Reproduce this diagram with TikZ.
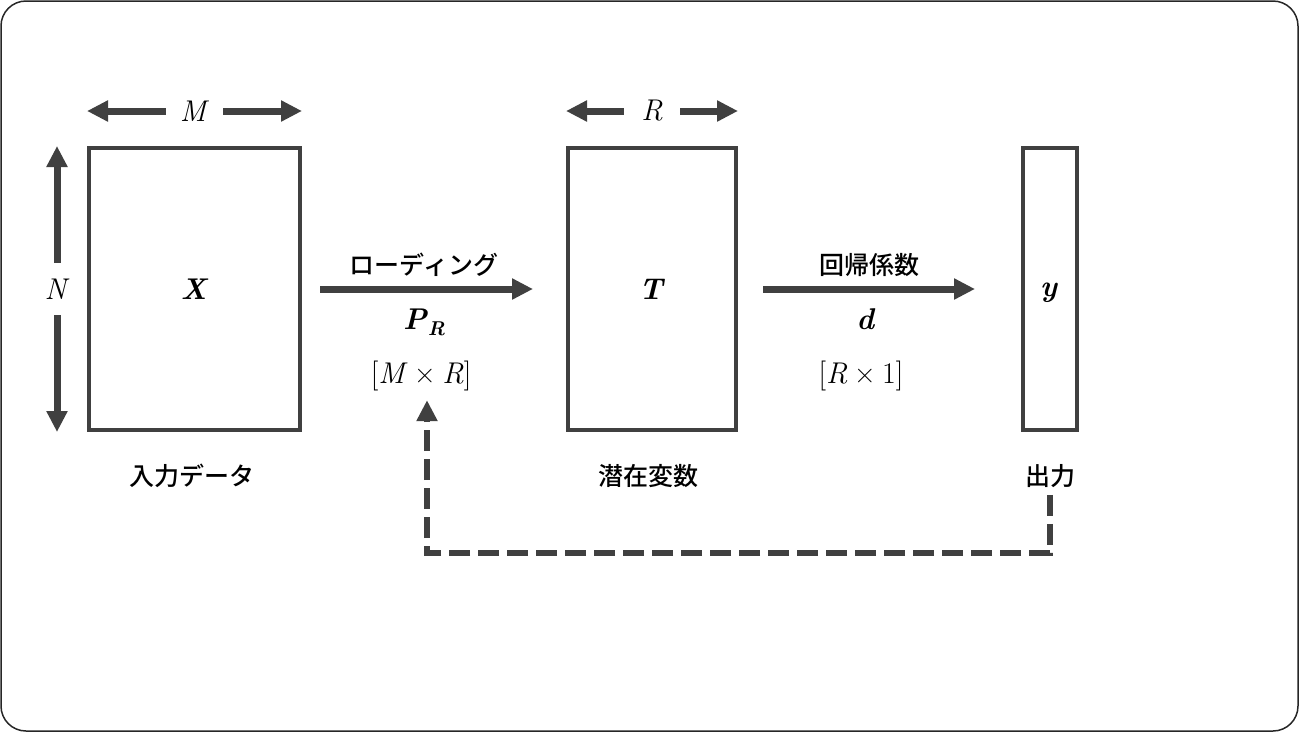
\documentclass[tikz,border=0pt]{standalone}
\usepackage{fontspec}
\newfontfamily\jpfam{Noto Sans CJK JP Medium}
\usetikzlibrary{arrows.meta}
\definecolor{dg}{HTML}{404040}
\newcommand\mymathsize{\fontsize{30}{34}\selectfont}
\newcommand\myjpfont{\jpfam\fontsize{25}{30}\selectfont}
\newcommand\bi[1]{\textbf{\textit{#1}}}
\newcommand\tms{\hspace{0.22em}\symbol{"00D7}\hspace{0.22em}}
\begin{document}
\begin{tikzpicture}[x=1pt,y=-1pt,
  mat/.style={draw=dg, line width=4pt, minimum height=282pt, inner sep=0pt, font=\mymathsize},
  dimarr/.style={draw=dg, line width=7pt, -{Triangle[length=21pt,width=20pt]}},
  bigarr/.style={dimarr},
  fb/.style={draw=dg, line width=6pt, dash pattern=on 21pt off 8pt, -{Triangle[length=21pt,width=20pt]}},
  jp/.style={font=\myjpfont, inner sep=0pt, text=black},
  mt/.style={font=\mymathsize, inner sep=0pt, text=black}]
\useasboundingbox (0,0) rectangle (1299,732);
\draw[line width=1.5pt, rounded corners=25pt, draw=black!85] (1,1) rectangle (1298,731);
% matrices
\node[mat, minimum width=211pt] (X) at (194.5,289) {\bi{X}};
\node[mat, minimum width=168pt] (T) at (652,289) {\bi{T}};
\node[mat, minimum width=54pt] (Y) at (1050,289) {};
\node[mt] (ylab) at (1049,293) {\bi{y}};
% dimension arrows
\node[mt, minimum width=57pt] (Mlab) at (194.5,111) {\textit{M}};
\draw[dimarr] (Mlab.west) -- (Mlab.west -| X.west);
\draw[dimarr] (Mlab.east) -- (Mlab.east -| X.east);
\node[mt, minimum width=56pt] (Rlab) at (652,111) {\textit{R}};
\draw[dimarr] (Rlab.west) -- (Rlab.west -| T.west);
\draw[dimarr] (Rlab.east) -- (Rlab.east -| T.east);
\node[mt, minimum height=52pt] (Nlab) at (57,289) {\textit{N}};
\draw[dimarr] (Nlab.north) -- (Nlab.north |- X.north);
\draw[dimarr] (Nlab.south) -- (Nlab.south |- X.south);
% main arrows
\draw[bigarr, shorten <=18pt, shorten >=33pt] (X.east) -- (T.west);
\draw[bigarr, shorten <=25pt, shorten >=46pt] (T.east) -- (Y.west);
% arrow labels
\node[jp] (load) at (424,265) {ローディング};
\node[mt] (PR) at (424,322) {\bi{P}{\fontsize{20}{20}\selectfont\raisebox{-6pt}{\bi{R}}}};
\node[mt] (MR) at (421,376) {[\textit{M}\tms\textit{R}]};
\node[jp] (reg) at (869,265) {回帰係数};
\node[mt] (dd) at (866,319) {\bi{d}};
\node[mt] (R1) at (861,376) {[\textit{R}\tms 1]};
% bottom labels
\node[jp] (inl) at (192,476) {入力データ};
\node[jp] (latl) at (648,476) {潜在変数};
\node[jp] (outl) at (1050,476) {出力};
% feedback
\coordinate (fbc) at (427,553);
\draw[fb, shorten <=7pt, shorten >=9pt] (outl.south) |- (fbc) -- (fbc |- MR.south);
\end{tikzpicture}
\end{document}
